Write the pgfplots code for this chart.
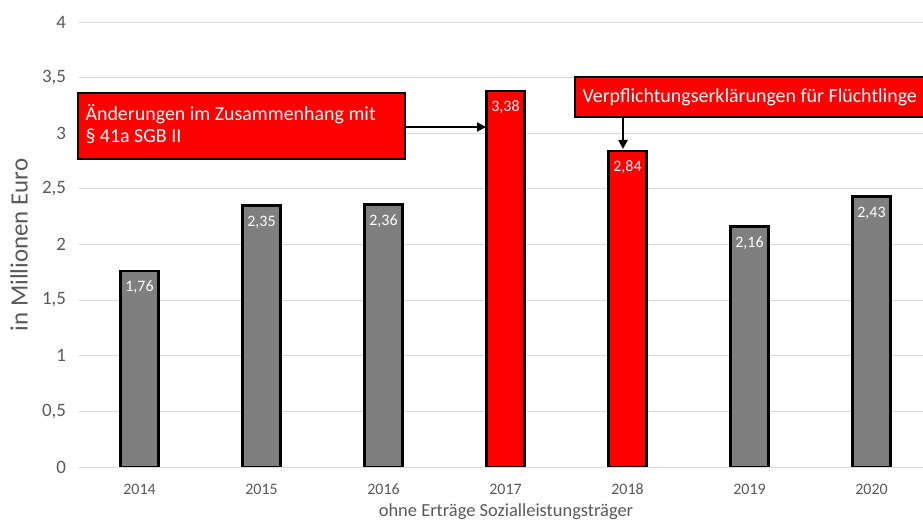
\documentclass[border=0pt]{standalone}
\usepackage{pgfplots}
\pgfplotsset{compat=1.18}
\usepackage{fontspec}
\setmainfont{Carlito}
\usetikzlibrary{arrows.meta}
\definecolor{txtgray}{RGB}{89,89,89}
\definecolor{gridgray}{RGB}{217,217,217}
\definecolor{bargray}{RGB}{127,127,127}
\definecolor{barred}{RGB}{255,0,0}

\begin{document}
\begin{tikzpicture}[x=1bp,y=1bp]
\path[use as bounding box] (0,0) rectangle (923,525);
\clip (0,0) rectangle (923,525);
\begin{axis}[
    at={(78.5bp,58bp)}, anchor=south west,
    scale only axis, width=854bp, height=445bp,
    xmin=-0.5, xmax=6.5, ymin=0, ymax=4,
    xtick={0,1,2,3,4,5,6},
    xticklabels={2014,2015,2016,2017,2018,2019,2020},
    ytick={0,0.5,1,1.5,2,2.5,3,3.5,4},
    axis line style={draw=none},
    major tick length=0pt,
    ymajorgrids,
    grid style={gridgray, line width=0.8bp},
    /pgf/number format/assume math mode=true,
    /pgf/number format/use comma,
    xticklabel style={text=txtgray, font=\fontsize{16}{19}\selectfont,
        text height=11bp, text depth=0pt, yshift=-13bp},
    yticklabel style={text=txtgray, font=\fontsize{19}{22}\selectfont, xshift=-9bp},
    ybar, bar width=38bp, bar shift=0pt,
    nodes near coords={\pgfmathprintnumber[fixed,fixed zerofill,precision=2,use comma]{\pgfplotspointmeta}},
    every node near coord/.append style={anchor=north, yshift=-5bp,
        text=white, font=\fontsize{16}{19}\selectfont,
        text height=11bp, text depth=0pt},
]
\addplot[fill=bargray, draw=black, line width=2.5bp]
    coordinates {(0,1.76) (1,2.35) (2,2.36) (5,2.16) (6,2.43)};
\addplot[fill=barred, draw=black, line width=2.5bp]
    coordinates {(3,3.38) (4,2.84)};
\end{axis}
% axis titles
\node[rotate=90, text=txtgray, font=\fontsize{25}{30}\selectfont] at (19,280) {in Millionen Euro};
\node[text=txtgray, font=\fontsize{18.5}{22}\selectfont] at (506,13) {ohne Erträge Sozialleistungsträger};
% annotations
\draw[fill=barred, line width=2.5bp] (78,366) rectangle (405,432);
\node[anchor=west, text=white, align=left, font=\fontsize{20}{22}\selectfont]
    at (82,401) {Änderungen im Zusammenhang mit\\§ 41a SGB II};
\draw[line width=2.5bp, -{Triangle[length=9bp,width=9bp]}] (405,398) -- (486,398);
\draw[fill=barred, line width=2.5bp] (575,408) rectangle (950,448);
\node[anchor=west, text=white, font=\fontsize{20}{22}\selectfont]
    at (579,428) {Verpflichtungserklärungen für Flüchtlinge};
\draw[line width=2.5bp, -{Triangle[length=9bp,width=9bp]}] (623,408) -- (623,376);
\end{tikzpicture}
\end{document}
